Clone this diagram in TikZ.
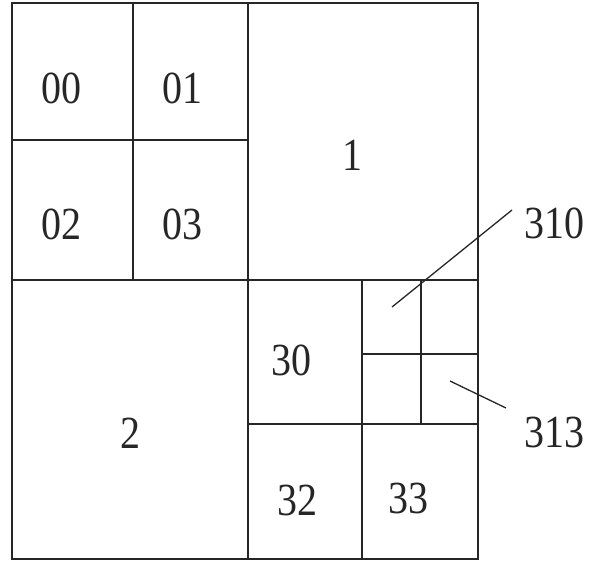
\documentclass[tikz,border=0pt]{standalone}
\usepackage{fontspec}
\setmainfont{Liberation Serif}
\begin{document}
\begin{tikzpicture}[x=1pt,y=-1pt,
  grid/.style={draw=black!85,line width=1.4pt},
  lbl/.style={font=\fontsize{40}{40}\selectfont,text=black!85,inner sep=0pt,yscale=1.15,transform shape},
  leader/.style={draw=black!85,line width=1.3pt}]
\useasboundingbox (0,0) rectangle (592,563);
% outer frame
\draw[grid] (12,3) rectangle (478,559);
% main split
\draw[grid] (248,3) -- (248,559);
\draw[grid] (12,280) -- (478,280);
% quadrant 0
\draw[grid] (133,3) -- (133,280);
\draw[grid] (12,140) -- (248,140);
% quadrant 3
\draw[grid] (362,280) -- (362,559);
\draw[grid] (248,424) -- (478,424);
% quadrant 31
\draw[grid] (421,280) -- (421,424);
\draw[grid] (362,354) -- (478,354);
% labels
\node[lbl] (n00) at (61,88) {00};
\node[lbl] (n01) at (182,88) {01};
\node[lbl] (n02) at (61,224) {02};
\node[lbl] (n03) at (182,224) {03};
\node[lbl] (n1) at (352,155) {1};
\node[lbl] (n2) at (130,433) {2};
\node[lbl] (n30) at (291,360) {30};
\node[lbl] (n32) at (297,500) {32};
\node[lbl] (n33) at (408,498) {33};
\node[lbl] (n310) at (554,223) {310};
\node[lbl] (n313) at (554,432) {313};
% leaders
\coordinate (c310) at (392,307);
\coordinate (e310) at (512,210);
\coordinate (c313) at (450,381);
\coordinate (e313) at (506,408);
\draw[leader] (c310) -- (e310);
\draw[leader] (c313) -- (e313);
\end{tikzpicture}
\end{document}
